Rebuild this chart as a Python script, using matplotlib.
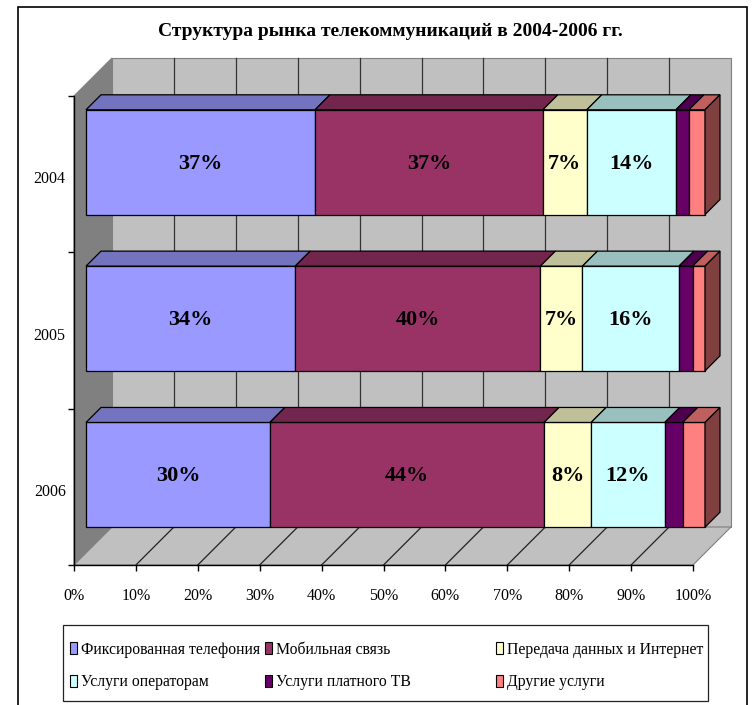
import numpy as np
import matplotlib.pyplot as plt
from matplotlib.colors import to_rgb
from matplotlib.patches import Polygon, Rectangle, Patch

plt.rcParams['font.family'] = ['Liberation Serif', 'DejaVu Serif']

# --- data (shares, %) ---
years = ['2004', '2005', '2006']
segments = ['Фиксированная телефония', 'Мобильная связь', 'Передача данных и Интернет',
            'Услуги операторам', 'Услуги платного ТВ', 'Другие услуги']
fixed = [37.0, 33.8, 29.7]
mobile = [36.8, 39.6, 44.3]
data_net = [7.1, 6.8, 7.6]
operators = [14.4, 15.6, 11.9]
pay_tv = [2.1, 2.2, 2.9]
other = [2.6, 2.0, 3.6]
shares = [fixed, mobile, data_net, operators, pay_tv, other]
colors = ['#9999FF', '#993366', '#FFFFCC', '#CCFFFF', '#660066', '#FF8080']
x_ticks = np.arange(0, 101, 10)
title = 'Структура рынка телекоммуникаций в 2004-2006 гг.'

W, H = 755, 705
fig = plt.figure(figsize=(W / 100, H / 100), dpi=100)
ax = fig.add_axes([74 / W, (H - 565) / H, 619 / W, 469 / H])
ax.set_xlim(0, 100)
ax.set_ylim(3, 0)
ax.patch.set_visible(False)

# pseudo-3D depth (in pixels, along the up-right diagonal)
kx, ky = 100 / 619, 3 / 469
WALL, B0, B1 = 38, 12, 27


def shift(x, y, t):
    return (x + t * kx, y - t * ky)


def shade(c, f):
    return tuple(v * f for v in to_rgb(c))


# walls and floor
ax.add_patch(Rectangle(shift(0, 0, WALL), 100, 3, fc='#C0C0C0', ec='#808080', lw=0.8,
                       clip_on=False, zorder=0.5))
ax.add_patch(Polygon([(0, 0), (0, 3), shift(0, 3, WALL), shift(0, 0, WALL)],
                     fc='#808080', ec='#808080', lw=0.8, clip_on=False, zorder=0.6))
ax.add_patch(Polygon([(0, 3), (100, 3), shift(100, 3, WALL), shift(0, 3, WALL)],
                     fc='#C0C0C0', ec='#808080', lw=0.8, clip_on=False, zorder=0.6))
for x in x_ticks[1:-1]:
    bx, by0 = shift(x, 0, WALL)
    _, by1 = shift(x, 3, WALL)
    ax.plot([bx, bx], [by0, by1], color='#333333', lw=0.9, clip_on=False, zorder=0.7)
    fx, fy = shift(x, 3, WALL)
    ax.plot([x, fx], [3, fy], color='#222222', lw=0.9, clip_on=False, zorder=0.7)

# bars
h = 0.67
for i, yr in enumerate(years):
    total = sum(v[i] for v in shares)
    yc = i + 0.5
    ytop = yc - h / 2
    ybot = yc + h / 2
    left = 0.0
    for s, vals in enumerate(shares):
        w = vals[i] / total * 100
        ax.barh(yc - B0 * ky, w, left=left + B0 * kx, height=h, color=colors[s],
                edgecolor='black', lw=0.9, clip_on=False, zorder=3)
        ax.add_patch(Polygon([shift(left, ytop, B0), shift(left + w, ytop, B0),
                              shift(left + w, ytop, B1), shift(left, ytop, B1)],
                             fc=shade(colors[s], 0.75), ec='black', lw=0.9,
                             clip_on=False, zorder=3))
        if s == len(shares) - 1:
            ax.add_patch(Polygon([shift(left + w, ytop, B0), shift(left + w, ybot, B0),
                                  shift(left + w, ybot, B1), shift(left + w, ytop, B1)],
                                 fc=shade(colors[s], 0.5), ec='black', lw=0.9,
                                 clip_on=False, zorder=3))
        if vals[i] >= 5:
            cx, cy = shift(left + w / 2, yc, B0)
            ax.text(cx, cy + 0.01, f'{round(vals[i])}%', ha='center', va='center',
                    fontsize=16, fontweight='bold', zorder=5)
        left += w

# axes, ticks
for side in ['top', 'right']:
    ax.spines[side].set_visible(False)
for side in ['left', 'bottom']:
    ax.spines[side].set_linewidth(1.0)
    ax.spines[side].set_color('black')
ax.set_xticks(x_ticks)
ax.set_xticklabels([f'{v}%' for v in x_ticks])
ax.tick_params(axis='x', direction='out', length=4.5, width=1, pad=12, labelsize=11.5)
ax.set_yticks([0, 1, 2, 3])
ax.set_yticklabels([])
ax.set_yticks([0.52, 1.52, 2.52], minor=True)
ax.set_yticklabels(years, minor=True)
ax.tick_params(axis='y', which='major', direction='out', length=4.5, width=1)
ax.tick_params(axis='y', which='minor', length=0, pad=6, labelsize=11.5)

fig.text(390 / W, 1 - 31 / H, title, ha='center', va='center', fontsize=14,
         fontweight='bold')

# legend: three columns, each its own legend so the columns sit where Excel put them
col_items = [[0, 3], [1, 4], [2, 5]]
col_x = [70, 265, 496]
for items, cx in zip(col_items, col_x):
    fig.legend([Patch(facecolor=colors[k], edgecolor='black', lw=0.8) for k in items],
               [segments[k] for k in items], loc='center left',
               bbox_to_anchor=(cx / W, 1 - 666 / H), frameon=False, fontsize=11.3,
               handlelength=0.42, handleheight=0.8, handletextpad=0.3,
               borderaxespad=0, labelspacing=1.05, borderpad=0)
fig.patches.append(Rectangle((63 / W, 1 - 701 / H), 645 / W, 76 / H, fill=False,
                             ec='#222222', lw=0.9, transform=fig.transFigure))

# outer chart border
fig.patches.append(Rectangle((18 / W, -0.01), 729 / W, 1.01 - 7 / H, fill=False,
                             ec='black', lw=1.2, transform=fig.transFigure))

fig.savefig('out.png', dpi=100)
